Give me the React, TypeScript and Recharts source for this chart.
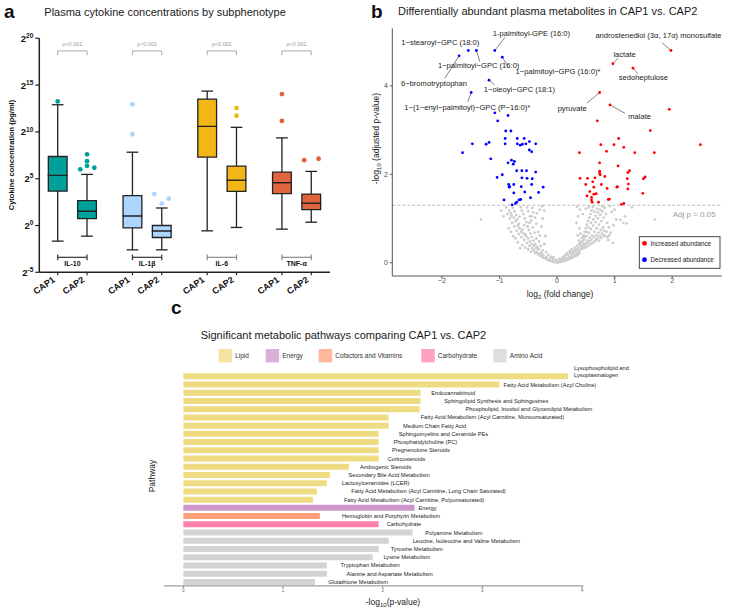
import React from 'react';
import {
  ComposedChart, ScatterChart, BarChart, Bar, Cell, XAxis, YAxis, Scatter,
  ReferenceLine, ReferenceArea, LabelList,
} from 'recharts';

const FONT = '"Liberation Sans", Arial, Helvetica, sans-serif';

/* ---------------- Panel a : cytokine box plots (log2 units) ---------------- */
const CYTOKINES = ['IL-10', 'IL-1β', 'IL-6', 'TNF-α'];
const SUBPHENOTYPES = ['CAP1', 'CAP2'];
const P_LABELS = ['p<0.001', 'p<0.001', 'p<0.001', 'p<0.001'];
const BOX_POSITIONS = [0, 1, 2.55, 3.55, 5.1, 6.1, 7.65, 8.65];
const WHISKER_LOW = [-1.67, -1.14, -2.6, -2.6, -0.57, -0.21, -0.39, 0.35];
const Q1 = [3.68, 0.74, -0.26, -1.28, 7.3, 3.65, 3.4, 1.7];
const MEDIAN = [5.35, 1.52, 1.02, -0.57, 10.6, 4.85, 4.57, 2.4];
const Q3 = [7.37, 2.66, 3.19, 0.0, 13.5, 6.34, 5.7, 3.36];
const WHISKER_HIGH = [12.9, 5.46, 7.83, 1.87, 14.36, 10.49, 9.36, 5.78];
const OUTLIER_BOX = [0, 1, 1, 1, 1, 1, 2, 2, 3, 3, 3, 5, 5, 6, 6, 7, 7];
const OUTLIER_JITTER = [0, -0.23, 0, 0, 0, 0.25, 0, 0, -0.25, 0, 0.24, 0, 0, 0, 0, -0.24, 0.25];
const OUTLIER_LOG2 = [13.26, 6.0, 7.6, 6.87, 6.38, 6.17, 12.94, 9.75, 3.36, 2.34, 2.87, 12.55, 11.73, 14.04, 11.17, 6.98, 7.13];
const Y_TICKS_A = [-5, 0, 5, 10, 15, 20];

const BOX_FILL = ['#00A19B', '#AAD6FF', '#F2B716', '#E1653C'];
const BRACKET_COLOR = ['#333333', '#333333', '#8a8a8a', '#8a8a8a'];

/* ---------------- Panel b : volcano plot ---------------- */
const BLUE_POINTS: [number, number][] = [
  [-1.54, 4.8], [-1.4, 4.8], [-1.08, 4.8], [-1.7, 4.68], [-0.95, 4.65], [-1.18, 4.13], [-1.49, 3.85],
  [-1.08, 3.39], [-0.85, 3.33], [-1.03, 3.21], [-0.89, 2.98], [-0.8, 2.98], [-1.64, 2.49], [-1.47, 2.69],
  [-1.23, 2.68], [-1.18, 2.72], [-0.9, 2.69], [-0.9, 2.81], [-0.69, 2.81], [-0.57, 2.81], [-0.69, 2.69],
  [-0.64, 2.66], [-0.6, 2.68], [-0.54, 2.69], [-0.48, 2.74], [-0.37, 2.69], [-0.48, 2.55], [-0.44, 2.51],
  [-1.15, 2.35], [-0.79, 2.32], [-0.74, 2.29], [-0.85, 2.26], [-0.76, 2.23], [-0.7, 2.08], [-0.61, 2.08],
  [-0.53, 2.08], [-0.37, 2.05], [-0.95, 1.99], [-1.04, 1.93], [-0.61, 1.92], [-0.52, 1.91], [-0.43, 1.9],
  [-0.84, 1.77], [-0.75, 1.77], [-0.62, 1.72], [-0.44, 1.77], [-0.83, 1.71], [-0.24, 1.71], [-0.75, 1.58],
  [-0.56, 1.6], [-0.32, 1.59], [-0.46, 1.47], [-0.92, 1.42], [-0.7, 1.37], [-0.66, 1.42], [-0.63, 1.43],
  [-0.78, 1.31], [-0.72, 1.34], [-0.82, 1.72],
];
const RED_POINTS: [number, number][] = [
  [1.98, 4.8], [0.97, 4.5], [1.32, 4.4], [0.74, 3.85], [0.92, 3.57], [1.95, 3.47], [0.7, 3.21],
  [1.62, 2.99], [1.07, 2.81], [0.76, 2.67], [0.99, 2.67], [1.16, 2.61], [2.49, 2.67], [0.39, 2.49],
  [0.86, 2.52], [1.35, 2.49], [1.69, 2.49], [0.74, 2.26], [1.06, 2.19], [0.74, 2.07], [1.26, 2.08],
  [0.75, 1.99], [0.83, 1.95], [0.4, 1.91], [0.53, 1.91], [0.66, 1.92], [1.22, 1.9], [1.53, 1.94],
  [1.5, 1.9], [0.5, 1.77], [0.62, 1.83], [0.77, 1.77], [1.24, 1.78], [0.64, 1.71], [0.87, 1.68],
  [1.04, 1.71], [1.23, 1.67], [0.57, 1.61], [0.64, 1.55], [0.68, 1.56], [0.6, 1.48], [1.49, 1.57],
  [0.89, 1.43], [0.91, 1.44], [0.6, 1.42], [0.61, 1.37], [0.72, 1.37], [1.12, 1.32], [1.16, 1.34],
  [0.52, 1.51], [1.23, 2.04], [0.74, 2.02], [1.05, 1.72],
];
const GRAY_POINTS: [number, number][] = [
  [-0.05, 0.01], [0.0, 0.0], [0.03, 0.01], [0.06, 0.02], [0.09, 0.03], [-0.08, 0.03], [-0.11, 0.04], [0.12, 0.04],
  [0.15, 0.05], [-0.14, 0.05], [0.18, 0.07], [0.21, 0.08], [-0.17, 0.07], [-0.2, 0.09], [0.24, 0.1], [0.27, 0.12],
  [-0.23, 0.11], [0.3, 0.14], [0.33, 0.16], [-0.26, 0.13], [0.36, 0.18], [0.39, 0.21], [-0.29, 0.16], [0.02, 0.05],
  [0.07, 0.07], [0.11, 0.09], [0.16, 0.1], [0.2, 0.13], [0.25, 0.15], [0.29, 0.19], [0.34, 0.22], [0.38, 0.26],
  [0.42, 0.3], [-0.02, 0.06], [-0.07, 0.08], [-0.12, 0.1], [-0.18, 0.13], [-0.24, 0.17], [-0.3, 0.21], [-0.35, 0.24],
  [0.13, 0.14], [0.19, 0.18], [0.23, 0.21], [0.28, 0.25], [0.32, 0.28], [0.37, 0.33], [0.41, 0.37], [0.45, 0.41],
  [-0.33, 0.19], [-0.38, 0.22],
  [-0.4, 0.28], [-0.43, 0.33], [-0.45, 0.25], [-0.48, 0.38], [-0.5, 0.3], [-0.52, 0.45], [-0.55, 0.34], [-0.57, 0.52],
  [-0.6, 0.4], [-0.62, 0.58], [-0.64, 0.33], [-0.66, 0.65], [-0.68, 0.46], [-0.7, 0.72], [-0.72, 0.55], [-0.74, 0.82],
  [-0.76, 0.6], [-0.78, 0.9], [-0.8, 0.7], [-0.82, 1.0], [-0.84, 0.78], [-0.86, 1.1], [-0.88, 1.25],
  [-0.38, 0.42], [-0.41, 0.5], [-0.44, 0.58], [-0.46, 0.66], [-0.49, 0.74], [-0.51, 0.82], [-0.53, 0.92], [-0.56, 1.0],
  [-0.58, 1.1], [-0.61, 1.18], [-0.63, 1.26], [-0.66, 0.88], [-0.69, 0.98], [-0.71, 1.08], [-0.74, 1.16], [-0.77, 1.24],
  [-0.8, 1.12], [-0.34, 0.36], [-0.36, 0.55], [-0.39, 0.68], [-0.42, 0.8], [-0.45, 0.95], [-0.47, 1.05], [-0.5, 1.16],
  [-0.52, 1.25], [-0.31, 0.48], [-0.33, 0.7], [-0.36, 0.88], [-0.38, 1.02], [-0.41, 1.14], [-0.43, 1.24], [-0.28, 0.38],
  [-0.3, 0.62], [-0.27, 0.82], [-0.25, 1.0], [-0.22, 1.18], [-0.2, 0.6], [-0.22, 0.42], [-1.32, 0.98], [-0.93, 1.05],
  [-0.97, 1.18], [-0.6, 0.75], [-0.55, 0.64], [-0.65, 1.04],
  [0.44, 0.48], [0.47, 0.52], [0.49, 0.44], [0.51, 0.6], [0.53, 0.5], [0.55, 0.68], [0.57, 0.56], [0.59, 0.76],
  [0.61, 0.62], [0.63, 0.84], [0.65, 0.7], [0.67, 0.92], [0.69, 0.78], [0.71, 1.0], [0.73, 0.86], [0.75, 1.08],
  [0.77, 0.94], [0.79, 1.16], [0.81, 1.02], [0.83, 1.24], [0.85, 1.1], [0.87, 0.9], [0.89, 0.51], [0.92, 1.28],
  [0.95, 1.15], [0.46, 0.62], [0.48, 0.7], [0.5, 0.78], [0.52, 0.86], [0.54, 0.94], [0.56, 1.02], [0.58, 1.1],
  [0.6, 1.18], [0.62, 1.26], [0.64, 0.58], [0.66, 0.48], [0.68, 0.62], [0.7, 0.55], [0.72, 0.68], [0.74, 0.6],
  [0.76, 0.74], [0.78, 0.66], [0.8, 0.8], [0.82, 0.72], [0.84, 0.6], [0.86, 0.7], [0.4, 0.45], [0.43, 0.56],
  [0.38, 0.5], [0.41, 0.66], [0.36, 0.62], [0.39, 0.78], [0.34, 0.9], [0.37, 1.05], [0.35, 1.27], [0.4, 1.2],
  [0.45, 1.1], [0.5, 1.22], [0.55, 1.25], [0.65, 1.15], [0.7, 1.22], [0.97, 0.45], [1.03, 0.98], [1.1, 0.97],
  [1.15, 0.9], [1.21, 0.89], [1.18, 1.05], [1.3, 1.25], [1.7, 0.98], [1.0, 1.2], [0.9, 0.8], [0.93, 0.68], [0.98, 0.85],
  [-0.15, 0.18], [-0.19, 0.24], [-0.25, 0.28], [-0.27, 0.22], [-0.32, 0.3], [-0.36, 0.33], [-0.4, 0.38], [-0.44, 0.42],
  [-0.47, 0.48], [-0.5, 0.55], [-0.54, 0.6], [-0.58, 0.66], [-0.62, 0.7], [-0.65, 0.78], [-0.68, 0.84], [-0.72, 0.94],
  [-0.75, 1.02], [-0.79, 1.06], [-0.83, 1.18], [-0.1, 0.14], [-0.06, 0.12], [0.05, 0.09], [0.1, 0.12], [0.14, 0.17],
  [0.17, 0.22], [0.22, 0.26], [0.26, 0.3], [0.31, 0.34], [0.35, 0.38], [0.39, 0.42], [0.43, 0.46], [0.47, 0.58],
  [0.51, 0.7], [0.55, 0.8], [0.59, 0.9], [0.63, 0.98], [0.67, 1.06], [0.71, 1.14], [0.75, 1.2], [0.79, 1.28],
  [0.26, 0.22], [0.31, 0.27], [0.35, 0.3], [0.44, 0.36], [0.48, 0.4], [0.52, 0.44], [0.56, 0.48], [0.6, 0.52],
  [0.62, 0.45], [0.58, 0.42], [0.54, 0.38], [0.5, 0.35], [0.46, 0.33], [0.68, 0.52], [0.73, 0.5], [0.77, 0.56],
  [0.81, 0.62], [0.88, 0.58], [0.91, 0.62], [-0.57, 0.85], [-0.48, 0.9], [-0.44, 1.05], [-0.35, 1.12], [-0.3, 1.2],
  [-0.26, 1.28],
];
const METABOLITE_LABELS = [
  '1-palmitoyl-GPE (16:0)', '1\u2212stearoyl\u2212GPC (18:0)', '1\u2212palmitoyl\u2212GPC (16:0)',
  '1\u2212palmitoyl\u2212GPG (16:0)*', '6\u2212bromotryptophan', '1\u2212oleoyl\u2212GPC (18:1)',
  '1\u2212(1\u2212enyl\u2212palmitoyl)\u2212GPC (P\u221216:0)*', 'androstenediol (3\u03b1, 17\u03b1) monosulfate',
  'lactate', 'sedoheptulose', 'pyruvate', 'malate',
];
const LABELED_POINT_X = [-1.08, -1.54, -1.4, -0.95, -1.7, -1.18, -1.49, 1.98, 0.97, 1.32, 0.74, 0.92];
const LABELED_POINT_Y = [4.8, 4.8, 4.8, 4.65, 4.68, 4.13, 3.85, 4.8, 4.5, 4.4, 3.85, 3.57];
const LABEL_X = [-0.443, -2.026, -1.36, 0.017, -2.136, -0.652, -1.557, 1.762, 1.174, 1.5, 0.264, 1.435];
const LABEL_Y = [5.19, 4.99, 4.46, 4.33, 4.06, 3.92, 3.52, 5.13, 4.71, 4.18, 3.48, 3.3];
const LEADER_END_X = [-0.904, null, -1.34, -0.85, -1.95, -1.08, -1.55, 1.82, 1.06, 1.41, 0.52, 1.18];
const LEADER_END_Y = [5.1, null, 4.55, 4.43, 4.17, 4.02, 3.64, 4.98, 4.63, 4.27, 3.61, 3.38];
const ADJ_P = 0.05;

/* ---------------- Panel c : pathway bars ---------------- */
const PATHWAYS = [
  'Lysophospholipid and\nLysoplasmalogen', 'Fatty Acid Metabolism (Acyl Choline)', 'Endocannabinoid',
  'Sphingolipid Synthesis and Sphingosines', 'Phospholipid, Inositol and Glycerolipid Metabolism',
  'Fatty Acid Metabolism (Acyl Carnitine, Monounsaturated)', 'Medium Chain Fatty Acid',
  'Sphingomyelins and Ceramide PEs', 'Phosphatidylcholine (PC)', 'Pregnenolone Steroids', 'Corticosteroids',
  'Androgenic Steroids', 'Secondary Bile Acid Metabolism', 'Lactosylceramides (LCER)',
  'Fatty Acid Metabolism (Acyl Carnitine, Long Chain Saturated)', 'Fatty Acid Metabolism (Acyl Carnitine, Polyunsaturated)',
  'Energy', 'Hemoglobin and Porphyrin Metabolism', 'Carbohydrate', 'Polyamine Metabolism',
  'Leucine, Isoleucine and Valine Metabolism', 'Tyrosine Metabolism', 'Lysine Metabolism',
  'Tryptophan Metabolism', 'Alanine and Aspartate Metabolism', 'Glutathione Metabolism',
];
const PATHWAY_NEG_LOG_P = [
  3.86, 3.17, 2.38, 2.38, 2.37, 2.06, 2.06, 1.96, 1.96, 1.96, 1.96, 1.66, 1.47, 1.44, 1.34, 1.3,
  2.32, 1.37, 1.96, 2.3, 2.06, 1.96, 1.9, 1.44, 1.44, 1.32,
];
const PATHWAY_CLASS = [0, 0, 0, 0, 0, 0, 0, 0, 0, 0, 0, 0, 0, 0, 0, 0, 1, 2, 3, 4, 4, 4, 4, 4, 4, 4];
const CLASS_NAMES = ['Lipid', 'Energy', 'Cofactors and Vitamins', 'Carbohydrate', 'Amino Acid'];
const PATHWAY_TICKS = [0, 1, 2, 3, 4];

const CLASS_COLORS = ['#EEDC82', '#CD96CD', '#FFA07A', '#FF82AB', '#D3D3D3'];
const LABEL_GAP = [6, 4.3, 10.7, 23.7, 46, 32, 14.4, 20, 14.7, 13.3, 8.7, 11.3, 18.7, 15, 34.3, 31, 4, 22, 8, 12.7, 24, 12, 10.7, 13.7, 19.7, 13.3];

const fmtMinus = (v: number) => (v < 0 ? `\u2212${Math.abs(v)}` : `${v}`);

/* ---------------- Panel a ---------------- */
function CapTick(props: any) {
  const { x, y, index } = props;
  const ax = x - 2;
  const ay = y + 3.7;
  return (
    <text x={ax} y={ay} transform={`rotate(-35, ${ax}, ${ay})`} textAnchor="end" fontSize={9}
      fontWeight="bold" fontFamily={FONT} fill="#111">
      {SUBPHENOTYPES[index % 2]}
    </text>
  );
}

function PowTick(props: any) {
  const { x, y, payload } = props;
  return (
    <text x={x} y={y + 3.4} textAnchor="end" fontFamily={FONT} fontWeight="bold" fill="#111" fontSize={9.5}>
      <tspan>2</tspan>
      <tspan dy={-3.7} fontSize={6.5}>{String(payload.value)}</tspan>
    </text>
  );
}

function PanelA() {
  const outliers = OUTLIER_LOG2.map((y, k) => ({
    x: BOX_POSITIONS[OUTLIER_BOX[k]] + OUTLIER_JITTER[k],
    y,
    fill: BOX_FILL[Math.floor(OUTLIER_BOX[k] / 2)],
  }));
  const centers = CYTOKINES.map((_, g) => (BOX_POSITIONS[2 * g] + BOX_POSITIONS[2 * g + 1]) / 2);
  const texts = [
    ...CYTOKINES.map((name, g) => ({ x: centers[g], y: -4.38, text: name, kind: 'cyto' })),
    ...CYTOKINES.map((_, g) => ({ x: centers[g], y: 19.23, text: P_LABELS[g], kind: 'p' })),
  ];
  const ln = { stroke: '#222', strokeWidth: 1.3, ifOverflow: 'visible' as const };
  const capHalf = 0.2;
  const boxHalf = 0.32;
  return (
    <ComposedChart width={340} height={300} margin={{ top: 38.3, right: 10, left: 9.3, bottom: 7.7 }}>
      <XAxis type="number" dataKey="x" domain={[-0.628, 9.29]} allowDataOverflow ticks={BOX_POSITIONS}
        interval={0} tick={(p: any) => <CapTick {...p} />} tickSize={3} tickMargin={2} height={20}
        axisLine={{ stroke: '#222', strokeWidth: 1.5 }} tickLine={{ stroke: '#222', strokeWidth: 1.2 }} />
      <YAxis type="number" dataKey="y" domain={[-5, 20]} allowDataOverflow ticks={Y_TICKS_A} interval={0}
        tick={(p: any) => <PowTick {...p} />} width={30} tickSize={4} tickMargin={2}
        axisLine={{ stroke: '#222', strokeWidth: 1.5 }} tickLine={{ stroke: '#222', strokeWidth: 1.2 }} />
      {BOX_POSITIONS.map((x, i) => (
        <ReferenceArea key={`lo${i}`} x1={x - boxHalf} x2={x + boxHalf} y1={Q1[i]} y2={MEDIAN[i]}
          fill={BOX_FILL[Math.floor(i / 2)]} fillOpacity={1} stroke="#222" strokeWidth={1.3} ifOverflow="visible" />
      ))}
      {BOX_POSITIONS.map((x, i) => (
        <ReferenceArea key={`hi${i}`} x1={x - boxHalf} x2={x + boxHalf} y1={MEDIAN[i]} y2={Q3[i]}
          fill={BOX_FILL[Math.floor(i / 2)]} fillOpacity={1} stroke="#222" strokeWidth={1.3} ifOverflow="visible" />
      ))}
      {BOX_POSITIONS.map((x, i) => (
        <ReferenceLine key={`wu${i}`} segment={[{ x, y: Q3[i] }, { x, y: WHISKER_HIGH[i] }]} {...ln} />
      ))}
      {BOX_POSITIONS.map((x, i) => (
        <ReferenceLine key={`wl${i}`} segment={[{ x, y: WHISKER_LOW[i] }, { x, y: Q1[i] }]} {...ln} />
      ))}
      {BOX_POSITIONS.map((x, i) => (
        <ReferenceLine key={`cu${i}`} segment={[{ x: x - capHalf, y: WHISKER_HIGH[i] }, { x: x + capHalf, y: WHISKER_HIGH[i] }]} {...ln} />
      ))}
      {BOX_POSITIONS.map((x, i) => (
        <ReferenceLine key={`cl${i}`} segment={[{ x: x - capHalf, y: WHISKER_LOW[i] }, { x: x + capHalf, y: WHISKER_LOW[i] }]} {...ln} />
      ))}
      {CYTOKINES.map((_, g) => {
        const a = BOX_POSITIONS[2 * g];
        const b = BOX_POSITIONS[2 * g + 1];
        const s = { stroke: '#aaa', strokeWidth: 1, ifOverflow: 'visible' as const };
        return [
          <ReferenceLine key={`pb${g}`} segment={[{ x: a, y: 18.65 }, { x: b, y: 18.65 }]} {...s} />,
          <ReferenceLine key={`pl${g}`} segment={[{ x: a, y: 18.65 }, { x: a, y: 18.2 }]} {...s} />,
          <ReferenceLine key={`pr${g}`} segment={[{ x: b, y: 18.65 }, { x: b, y: 18.2 }]} {...s} />,
        ];
      })}
      {CYTOKINES.map((_, g) => {
        const a = BOX_POSITIONS[2 * g];
        const b = BOX_POSITIONS[2 * g + 1];
        const s = { stroke: BRACKET_COLOR[g], strokeWidth: 1.2, ifOverflow: 'visible' as const };
        return [
          <ReferenceLine key={`cb${g}`} segment={[{ x: a, y: -3.4 }, { x: b, y: -3.4 }]} {...s} />,
          <ReferenceLine key={`cbl${g}`} segment={[{ x: a, y: -3.1 }, { x: a, y: -3.7 }]} {...s} />,
          <ReferenceLine key={`cbr${g}`} segment={[{ x: b, y: -3.1 }, { x: b, y: -3.7 }]} {...s} />,
        ];
      })}
      <Scatter data={outliers} isAnimationActive={false}
        shape={(p: any) => <circle cx={p.cx} cy={p.cy} r={2.4} fill={p.payload.fill} />} />
      <Scatter data={texts} isAnimationActive={false}
        shape={(p: any) => (
          <text x={p.cx} y={p.cy} textAnchor="middle" fontFamily={FONT}
            fontSize={p.payload.kind === 'p' ? 5.5 : 7} fontWeight={p.payload.kind === 'p' ? 'normal' : 'bold'}
            fill={p.payload.kind === 'p' ? '#9a9a9a' : '#111'}>
            {p.payload.text}
          </text>
        )} />
    </ComposedChart>
  );
}

/* ---------------- Panel b ---------------- */
function dot(color: string) {
  return (p: any) => <circle cx={p.cx} cy={p.cy} r={1.4} fill={color} />;
}

function PanelB() {
  const gray = GRAY_POINTS.map(([x, y]) => ({ x, y }));
  const blue = BLUE_POINTS.map(([x, y]) => ({ x, y }));
  const red = RED_POINTS.map(([x, y]) => ({ x, y }));
  const labels = METABOLITE_LABELS.map((text, i) => ({ x: LABEL_X[i], y: LABEL_Y[i], text }));
  const axisStyle = { stroke: '#555', strokeWidth: 1 };
  const tickStyle = { fontSize: 7, fill: '#4d4d4d', fontFamily: FONT };
  return (
    <ScatterChart width={380} height={300} margin={{ top: 28.4, right: 28.3, left: 0, bottom: 10 }}>
      <XAxis type="number" dataKey="x" domain={[-2.86, 2.86]} allowDataOverflow ticks={[-2, -1, 0, 1, 2]}
        interval={0} tickFormatter={fmtMinus} tick={tickStyle} tickSize={2.5} tickMargin={0} height={14}
        axisLine={axisStyle} tickLine={axisStyle} />
      <YAxis type="number" dataKey="y" domain={[-0.3, 5.3]} allowDataOverflow ticks={[0, 2, 4]} interval={0}
        tick={tickStyle} tickSize={2.5} tickMargin={2} width={22.3} axisLine={axisStyle} tickLine={axisStyle} />
      <ReferenceLine y={-Math.log10(ADJ_P)} stroke="#a8a8a8" strokeDasharray="3 2" strokeWidth={0.8}
        label={{ value: 'Adj p = 0.05', position: 'insideTopRight', offset: 6, fill: '#9a9a9a', fontSize: 8, fontFamily: FONT }} />
      {METABOLITE_LABELS.map((_, i) =>
        LEADER_END_X[i] === null ? null : (
          <ReferenceLine key={`ld${i}`} ifOverflow="visible" stroke="#333" strokeWidth={0.6}
            segment={[{ x: LABELED_POINT_X[i], y: LABELED_POINT_Y[i] }, { x: LEADER_END_X[i] as number, y: LEADER_END_Y[i] as number }]} />
        ))}
      <Scatter data={gray} isAnimationActive={false} shape={dot('#cccccc')} />
      <Scatter data={blue} isAnimationActive={false} shape={dot('#0000ff')} />
      <Scatter data={red} isAnimationActive={false} shape={dot('#ff0000')} />
      <Scatter data={labels} isAnimationActive={false}
        shape={(p: any) => (
          <text x={p.cx} y={p.cy} textAnchor="middle" dominantBaseline="central" fontSize={7.6}
            fontFamily={FONT} fill="#222">{p.payload.text}</text>
        )} />
    </ScatterChart>
  );
}

/* ---------------- Panel c ---------------- */
function PathwayLabel(props: any) {
  const { x, y, width, height, value } = props;
  let index = props.index;
  if (index === undefined) index = PATHWAYS.indexOf(value);
  const lines = String(value).split('\n');
  const lx = Number(x) + Number(width) + (LABEL_GAP[index] ?? 8);
  const cy = Number(y) + Number(height) / 2;
  const first = lines.length > 1 ? cy - 6.7 * (lines.length - 1) - 1.3 : cy;
  return (
    <text x={lx} y={first} fontSize={5.7} fontFamily={FONT} fill="#222" dominantBaseline="central">
      {lines.map((l, k) => (
        <tspan key={k} x={lx} dy={k === 0 ? 0 : 6.7}>{l}</tspan>
      ))}
    </text>
  );
}

function PanelC() {
  const rows = PATHWAYS.map((name, i) => ({ name, value: PATHWAY_NEG_LOG_P[i], cls: PATHWAY_CLASS[i] }));
  return (
    <BarChart layout="vertical" width={590} height={251} data={rows}
      margin={{ top: 12.1, right: 156.7, left: 14, bottom: 11.1 }} barCategoryGap={1.2}>
      <XAxis type="number" domain={[-0.194, 4.013]} allowDataOverflow ticks={PATHWAY_TICKS} interval={0}
        tick={{ fontSize: 4.5, fill: '#666', fontFamily: FONT }} tickSize={2} tickMargin={1} height={14}
        axisLine={{ stroke: '#888', strokeWidth: 1 }} tickLine={{ stroke: '#888' }} />
      <YAxis type="category" dataKey="name" width={0} tick={false} tickLine={false}
        axisLine={{ stroke: '#333', strokeWidth: 0.8 }} />
      <Bar dataKey="value" isAnimationActive={false}>
        {rows.map((r, i) => <Cell key={i} fill={CLASS_COLORS[r.cls]} />)}
        <LabelList dataKey="name" content={(p: any) => <PathwayLabel {...p} />} />
      </Bar>
    </BarChart>
  );
}

/* ---------------- Overlay texts ---------------- */
const LEGEND_C_X = [218.7, 265.7, 318.7, 421.3, 493.3];

function Overlay() {
  return (
    <svg width={750} height={611} style={{ position: 'absolute', left: 0, top: 0, pointerEvents: 'none' }}
      fontFamily={FONT}>
      <text x={4} y={17.5} fontSize={19} fontWeight="bold" fill="#111">a</text>
      <text x={44.3} y={16.3} fontSize={11} fill="#1a1a1a">Plasma cytokine concentrations by subphenotype</text>
      <text transform="translate(13.5,155) rotate(-90)" textAnchor="middle" fontSize={7.5} fontWeight="bold" fill="#111">
        Cytokine concentration (pg/ml)
      </text>

      <text x={371} y={17.5} fontSize={19} fontWeight="bold" fill="#111">b</text>
      <text x={398} y={15.3} fontSize={11} fill="#1a1a1a">Differentially abundant plasma metabolites in CAP1 vs. CAP2</text>
      <text x={560} y={297} textAnchor="middle" fontSize={8.5} fill="#222">
        log<tspan fontSize={6} dy={2}>2</tspan><tspan dy={-2}> (fold change)</tspan>
      </text>
      <text transform="translate(378.5,138.5) rotate(-90)" textAnchor="middle" fontSize={8.5} fill="#222">
        -log<tspan fontSize={6} dy={2}>10</tspan><tspan dy={-2}> (adjusted p-value)</tspan>
      </text>
      <rect x={639.3} y={236.7} width={80.7} height={31.6} fill="#fff" stroke="#333" strokeWidth={0.9} />
      <circle cx={644.5} cy={243.3} r={2.4} fill="#ff0000" />
      <circle cx={644.5} cy={259.7} r={2.4} fill="#0000ff" />
      <text x={650.5} y={245.5} fontSize={6.3} fill="#222">Increased abundance</text>
      <text x={650.5} y={261.9} fontSize={6.3} fill="#222">Decreased abundance</text>

      <text x={171} y={314} fontSize={19} fontWeight="bold" fill="#111">c</text>
      <text x={200.7} y={339} fontSize={11} fill="#1a1a1a">Significant metabolic pathways comparing CAP1 vs. CAP2</text>
      {CLASS_NAMES.map((n, i) => (
        <g key={n}>
          <rect x={LEGEND_C_X[i]} y={349} width={13.4} height={13.4} fill={CLASS_COLORS[i]} fillOpacity={0.75} />
          <text x={LEGEND_C_X[i] + 16.5} y={358.3} fontSize={6.5} fill="#333">{n}</text>
        </g>
      ))}
      <text x={393} y={605} textAnchor="middle" fontSize={8.5} fill="#222">
        -log<tspan fontSize={6} dy={2}>10</tspan><tspan dy={-2}>(p-value)</tspan>
      </text>
      <text transform="translate(155,476) rotate(-90)" textAnchor="middle" fontSize={8.5} fill="#222">Pathway</text>
    </svg>
  );
}

export default function App() {
  return (
    <div style={{ position: 'absolute', left: 0, top: 0, width: 750, height: 611, background: '#fff', overflow: 'hidden', fontFamily: FONT }}>
      <div style={{ position: 'absolute', left: 0, top: 0 }}><PanelA /></div>
      <div style={{ position: 'absolute', left: 370, top: 0 }}><PanelB /></div>
      <div style={{ position: 'absolute', left: 150, top: 360 }}><PanelC /></div>
      <Overlay />
    </div>
  );
}
